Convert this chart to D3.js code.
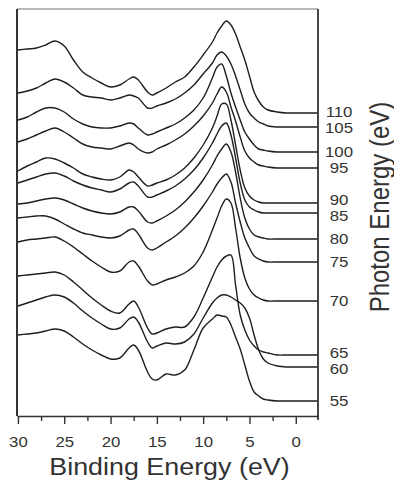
<!DOCTYPE html>
<html>
<head>
<meta charset="utf-8">
<script src="https://cdn.jsdelivr.net/npm/d3@7"></script>
<style>
  body { margin: 0; background: #fff; }
  svg { display: block; font-family: "Liberation Sans", Arial, Helvetica, sans-serif; }
</style>
</head>
<body>
<svg id="chart" width="394" height="480"></svg>
<script>
// binding energy sample points (eV)
const bindingEnergy = [30, 29, 28, 27, 26, 25, 24, 23, 22, 21, 20, 19, 18, 17.5, 17, 16, 15.5, 15, 14, 13, 12, 11, 10, 9, 8.5, 8, 7.5, 7, 6.5, 6, 5.5, 5, 4.5, 4, 3.5, 3, 2, 1, 0, -2.4];

const photonEnergy = [110, 105, 100, 95, 90, 85, 80, 75, 70, 65, 60, 55];
// vertical offset of each spectrum (arb. units)
const offsets = [303, 289, 264, 248, 213, 203, 177, 154, 115, 61, 49, 15];

// intensities (arb. units) above each spectrum's own baseline
const s110 = [63, 64, 65, 68, 72, 67, 53, 41, 35, 30, 26, 28, 34, 36, 33, 21, 18, 20, 25, 31, 36, 46, 58, 71, 80, 87, 92, 88, 79, 66, 53, 37, 21, 12, 6, 3, 1, 0, 0, 0];
const s105 = [34, 36, 39, 44, 48, 45, 39, 32, 30, 29, 27, 29, 32, 31, 29, 19, 19, 21, 24, 28, 34, 42, 53, 64, 72, 75, 71, 63, 51, 37, 23, 14, 9, 5, 3, 1, 0, 0, 0, 0];
const s100 = [32, 35, 40, 44, 44, 40, 33, 28, 25, 24, 24, 26, 29, 28, 24, 17, 18, 20, 24, 28, 34, 42, 54, 74, 85, 88, 76, 59, 45, 32, 20, 13, 7, 3, 2, 1, 0, 0, 0, 0];
const s95 = [26, 29, 33, 37, 40, 36, 30, 24, 21, 20, 19, 22, 25, 23, 19, 15, 16, 19, 23, 28, 34, 42, 52, 65, 74, 81, 76, 61, 47, 31, 17, 10, 6, 3, 2, 1, 0, 0, 0, 0];
const s90 = [32, 37, 41, 45, 44, 40, 35, 29, 26, 24, 23, 26, 33, 31, 26, 17, 18, 20, 23, 28, 35, 45, 58, 75, 87, 99, 99, 83, 58, 33, 15, 7, 3, 1, 0, 0, 0, 0, 0, 0];
const s85 = [30, 33, 36, 39, 40, 37, 32, 28, 25, 23, 21, 24, 30, 31, 27, 16, 16, 18, 22, 27, 34, 43, 55, 70, 79, 87, 90, 78, 55, 30, 13, 6, 3, 1, 0, 0, 0, 0, 0, 0];
const s80 = [35, 36, 38, 40, 41, 39, 35, 31, 28, 26, 25, 27, 32, 32, 28, 17, 16, 18, 23, 29, 37, 47, 59, 74, 83, 90, 95, 87, 67, 41, 21, 10, 4, 2, 1, 0, 0, 0, 0, 0];
const s75 = [44, 45, 46, 46, 43, 38, 33, 29, 27, 25, 24, 26, 32, 33, 28, 14, 12, 14, 20, 26, 34, 44, 56, 70, 78, 84, 88, 80, 59, 40, 24, 14, 6, 3, 1, 0, 0, 0, 0, 0];
const s70 = [59, 61, 62, 63, 64, 60, 54, 47, 40, 34, 29, 30, 39, 40, 35, 20, 16, 17, 21, 24, 28, 35, 49, 71, 83, 95, 102, 98, 73, 43, 23, 12, 6, 3, 1, 0, 0, 0, 0, 0];
const s65 = [79, 80, 81, 82, 83, 80, 73, 65, 57, 50, 44, 42, 51, 54, 48, 27, 21, 22, 26, 28, 28, 38, 57, 78, 88, 95, 99, 100, 70, 40, 25, 15, 9, 5, 3, 2, 0, 0, 0, 0];
const s60 = [61, 64, 67, 70, 72, 70, 64, 56, 49, 43, 38, 39, 48, 50, 45, 25, 19, 21, 24, 23, 25, 33, 49, 64, 69, 72, 72, 70, 67, 64, 59, 49, 32, 17, 8, 4, 1, 0, 0, 0];
const s55 = [66, 67, 68, 70, 72, 70, 64, 57, 51, 46, 42, 43, 53, 56, 51, 29, 22, 21, 27, 26, 31, 51, 73, 82, 86, 85, 84, 76, 64, 52, 36, 20, 9, 5, 2, 1, 0, 0, 0, 0];

const spectra = [s110, s105, s100, s95, s90, s85, s80, s75, s70, s65, s60, s55];

const xTicks = [30, 25, 20, 15, 10, 5, 0];
const xMinorTicks = [27.5, 22.5, 17.5, 12.5, 7.5, 2.5];

const svg = d3.select("#chart");
const plotLeft = 17, plotRight = 318, plotTop = 9, plotBottom = 416;
const stretch = 1.12; // the original figure is a bit wider than tall

const x = d3.scaleLinear().domain([30.1, -2.4]).range([plotLeft, plotRight]);
const y = d3.scaleLinear().domain([0, 407]).range([plotBottom, plotTop]);

const line = d3.line()
  .x(d => x(d[0]))
  .y(d => y(d[1]))
  .curve(d3.curveCatmullRom.alpha(0.5));

// spectra
svg.append("g")
  .attr("class", "spectra")
  .selectAll("path")
  .data(spectra)
  .enter()
  .append("path")
  .attr("fill", "none")
  .attr("stroke", "#1e1e1e")
  .attr("stroke-width", 1.4)
  .attr("stroke-linejoin", "round")
  .attr("d", (s, i) => line(s.map((v, j) => [bindingEnergy[j], v + offsets[i]])));

// frame
const frame = svg.append("g").attr("stroke", "#333").attr("fill", "none");
frame.append("line").attr("x1", plotLeft).attr("x2", plotRight).attr("y1", plotTop).attr("y2", plotTop)
  .attr("stroke", "#777").attr("stroke-width", 1.2);
frame.append("line").attr("x1", plotLeft).attr("x2", plotLeft).attr("y1", plotTop).attr("y2", plotBottom)
  .attr("stroke-width", 2);
frame.append("line").attr("x1", plotRight).attr("x2", plotRight).attr("y1", plotTop).attr("y2", plotBottom + 4)
  .attr("stroke-width", 1.8);

// bottom axis
const xAxis = d3.axisBottom(x).tickValues(xTicks).tickSize(8).tickPadding(12).tickSizeOuter(0);
const gx = svg.append("g").attr("transform", `translate(0,${plotBottom})`).call(xAxis);
gx.attr("font-family", null).attr("font-size", null);
gx.select(".domain").attr("stroke", "#333").attr("stroke-width", 1.6);
gx.selectAll(".tick line").attr("stroke", "#333").attr("stroke-width", 1.4);
gx.selectAll(".tick text")
  .attr("fill", "#333")
  .attr("font-size", 15)
  .attr("transform", `scale(${stretch},1)`);

const gxm = svg.append("g").attr("transform", `translate(0,${plotBottom})`)
  .call(d3.axisBottom(x).tickValues(xMinorTicks).tickSize(5).tickFormat(""));
gxm.select(".domain").remove();
gxm.selectAll(".tick line").attr("stroke", "#333").attr("stroke-width", 1.4);

svg.append("text")
  .attr("transform", `translate(${(plotLeft + plotRight) / 2 + 2},475) scale(${stretch},1)`)
  .attr("text-anchor", "middle")
  .attr("font-size", 24)
  .attr("fill", "#333")
  .text("Binding Energy (eV)");

// photon energy labels at the right, pushed apart when too close
const minGap = 16;
const labelY = offsets.map(o => y(o));
for (let i = 1; i < labelY.length; i++) {
  const gap = labelY[i] - labelY[i - 1];
  if (gap < minGap) {
    labelY[i - 1] -= (minGap - gap) / 2;
    labelY[i] += (minGap - gap) / 2;
  }
}

svg.append("g")
  .selectAll("text")
  .data(photonEnergy)
  .enter()
  .append("text")
  .attr("transform", (d, i) => `translate(339,${labelY[i]}) scale(${stretch},1)`)
  .attr("dy", "0.36em")
  .attr("text-anchor", "middle")
  .attr("font-size", 15)
  .attr("fill", "#333")
  .text(d => d);

svg.append("text")
  .attr("transform", `translate(389,207) scale(${stretch},1) rotate(-90)`)
  .attr("text-anchor", "middle")
  .attr("font-size", 24)
  .attr("fill", "#333")
  .text("Photon Energy (eV)");
</script>
</body>
</html>
